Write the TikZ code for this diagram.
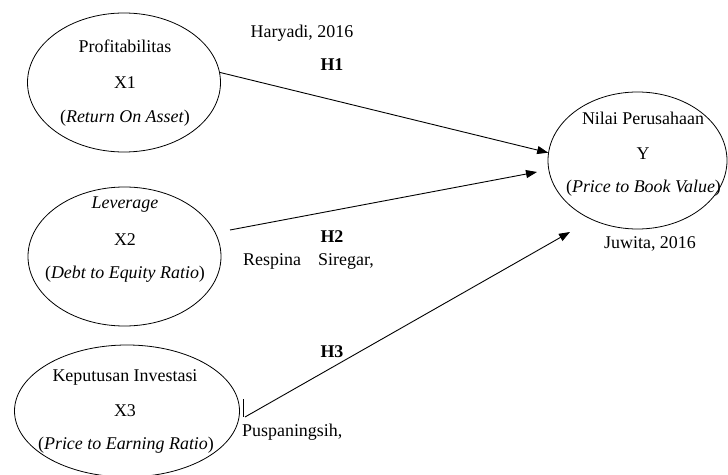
\documentclass[tikz,border=0pt]{standalone}
\usepackage{fontspec}
\setmainfont{Liberation Serif}
\usetikzlibrary{arrows.meta,shapes.geometric}
\begin{document}
\begin{tikzpicture}[x=1bp,y=-1bp,
  oval/.style={draw, ellipse, line width=0.8bp, inner sep=0pt},
  lbl/.style={font=\fontsize{18}{20}\selectfont, inner sep=0pt, anchor=base},
  lblw/.style={lbl, anchor=base west},
  arr/.style={line width=0.9bp, -{Triangle[length=11bp,width=8bp]}}]
\useasboundingbox (0,0) rectangle (728,475);
% ellipses
\node[oval, minimum width=193bp, minimum height=139bp] (x1) at (124,82.5) {};
\node[oval, minimum width=193bp, minimum height=139bp] (x2) at (124.5,256.5) {};
\node[oval, minimum width=225bp, minimum height=132bp] (x3) at (127,411) {};
\node[oval, minimum width=179bp, minimum height=137bp] (yv) at (637.5,160.5) {};
% ellipse texts
\node[lbl] (x1a) at (125,53) {Profitabilitas};
\node[lbl] (x1b) at (125,89) {X1};
\node[lbl] (x1c) at (125,123) {(\textit{Return On Asset})};
\node[lbl] (x2a) at (125,209) {\textit{Leverage}};
\node[lbl] (x2b) at (125,246) {X2};
\node[lbl] (x2c) at (125,279) {(\textit{Debt to Equity Ratio})};
\node[lbl] (x3a) at (125,381) {Keputusan Investasi};
\node[lbl] (x3b) at (125,416) {X3};
\node[lbl] (x3c) at (126,449) {(\textit{Price to Earning Ratio})};
\node[lbl] (ya) at (643,125) {Nilai Perusahaan};
\node[lbl] (yb) at (643,160) {Y};
\node[lbl] (yc) at (643.5,193) {(\textit{Price to Book Value})};
% other labels
\node[lbl] (juw) at (650,249) {Juwita, 2016};
\node[lbl] (har) at (302,38) {Haryadi, 2016};
\node[lbl] (h1) at (332,71) {\textbf{H1}};
\node[lbl] (h2) at (332,243) {\textbf{H2}};
\node[lblw] (resp) at (243,266) {Respina};
\node[lblw] (sire) at (318,266) {Siregar,};
\node[lbl] (h3) at (332,358) {\textbf{H3}};
\node[lblw] (pusp) at (242,436) {Puspaningsih,};
% connectors
\coordinate (h2s) at (230,230);
\coordinate (h2e) at (537,172);
\coordinate (h3s) at (245,417);
\coordinate (h3e) at (570,232);
\draw[arr] (x1.6) -- (yv.175);
\draw[arr] (h2s) -- (h2e);
\draw[arr] (h3s) -- (h3e);
\draw[line width=0.6bp] (243,399) -- (243,417);
\end{tikzpicture}
\end{document}
